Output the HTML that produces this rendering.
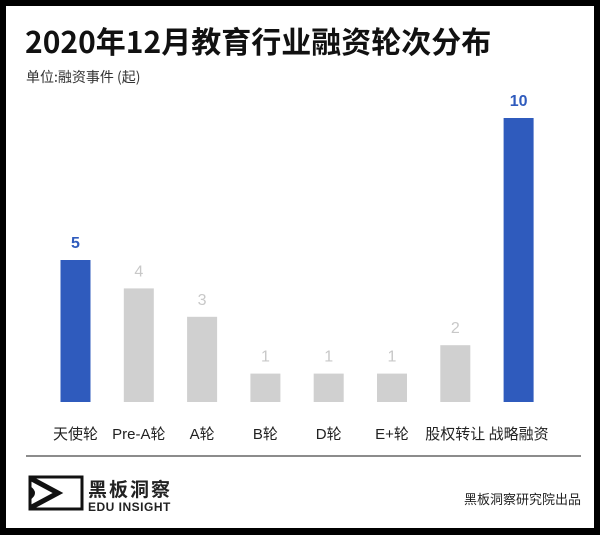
<!DOCTYPE html>
<html><head><meta charset="utf-8"><style>
body{margin:0;width:600px;height:535px;background:#000;overflow:hidden;font-family:"Liberation Sans","Noto Sans CJK SC",sans-serif;}
#card{position:absolute;left:6px;top:6px;width:588px;height:522px;background:#fff;}
</style></head><body>
<div id="card"></div>
<svg id="chart" width="600" height="535" style="position:absolute;left:0;top:0">
<text x="25" y="53" font-size="30" font-weight="bold" fill="#111" font-family="Noto Sans CJK SC, sans-serif">2020年12月教育行业融资轮次分布</text>
<text x="26" y="82" font-size="14" fill="#333" font-family="Noto Sans CJK SC, sans-serif">单位:融资事件 (起)</text>
<g id="bars"></g>
<line x1="26" y1="456" x2="581" y2="456" stroke="#666" stroke-width="1.5"/>
<g>
<rect x="30" y="477" width="52" height="32" fill="none" stroke="#111" stroke-width="3"/>
<path d="M30 478 L58 493 L30 508" fill="none" stroke="#111" stroke-width="5"/>
<path d="M30 486 Q40 493 30 500" fill="#111"/>
<text x="88" y="496" font-size="19" font-weight="bold" fill="#222" letter-spacing="2" font-family="Noto Sans CJK SC, sans-serif">黑板洞察</text>
<text x="88" y="511" font-size="12" font-weight="bold" fill="#222" letter-spacing="0.5">EDU INSIGHT</text>
</g>
<text x="581" y="504" font-size="13" fill="#222" text-anchor="end" font-family="Noto Sans CJK SC, sans-serif">黑板洞察研究院出品</text>
</svg>
<script>
const categories=["天使轮","Pre-A轮","A轮","B轮","D轮","E+轮","股权转让","战略融资"];
const values=[5,4,3,1,1,1,2,10];
const highlight=[true,false,false,false,false,false,false,true];
const base=402, unit=28.4, x0=75.5, step=63.3, bw=30;
const yS=v=>base-v*unit, xS=i=>x0+i*step;
const g=document.getElementById('bars'), NS='http://www.w3.org/2000/svg';
categories.forEach((c,i)=>{
 const v=values[i], hi=highlight[i];
 const r=document.createElementNS(NS,'rect');
 r.setAttribute('x',xS(i)-bw/2);r.setAttribute('y',yS(v));r.setAttribute('width',bw);r.setAttribute('height',base-yS(v));
 r.setAttribute('fill',hi?'#2f5bbd':'#d0d0d0');
 
 
 g.appendChild(r);
 const t=document.createElementNS(NS,'text');
 t.setAttribute('x',xS(i));t.setAttribute('y',yS(v)-12);t.setAttribute('text-anchor','middle');
 t.setAttribute('font-size','16');t.setAttribute('font-weight',hi?'bold':'normal');t.setAttribute('fill',hi?'#2f5bbd':'#c8c8c8');
 t.textContent=v;
 
 
 g.appendChild(t);
 const l=document.createElementNS(NS,'text');
 l.setAttribute('x',xS(i));l.setAttribute('y',439);l.setAttribute('text-anchor','middle');
 l.setAttribute('font-size','15');l.setAttribute('fill','#222');
 l.textContent=c;
 
 
 g.appendChild(l);
});
</script>
</body></html>
